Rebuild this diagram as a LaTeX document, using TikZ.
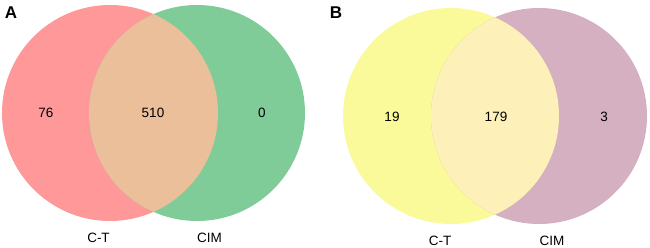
\documentclass[tikz,border=0pt]{standalone}
\usepackage{fontspec}
\setmainfont{Liberation Sans}
\usetikzlibrary{positioning}

\definecolor{ctred}{RGB}{255,153,153}
\definecolor{cimgreen}{RGB}{128,204,153}
\definecolor{lensA}{RGB}{235,191,153}
\definecolor{ctyellow}{RGB}{250,250,155}
\definecolor{cimmauve}{RGB}{212,176,192}
\definecolor{lensB}{RGB}{253,240,185}

\begin{document}
\begin{tikzpicture}[x=1pt, y=-1pt,
    setc/.style={circle, inner sep=0pt, minimum size=216pt},
    count/.style={font=\fontsize{13.5}{15}\selectfont},
    setlabel/.style={font=\fontsize{13.5}{15}\selectfont},
    panel/.style={font=\fontsize{17}{19}\selectfont\bfseries}]

    \useasboundingbox (0,0) rectangle (650,248);

    % Panel A
    \node[setc, fill=ctred] (ctA) at (110,113) {};
    \node[setc, fill=cimgreen] (cimA) at (197,113) {};
    \begin{scope}
        \clip (ctA.center) circle[radius=108pt];
        \fill[lensA] (cimA.center) circle[radius=108pt];
    \end{scope}
    \node[count] (onlyctA) at (46,113) {76};
    \node[count] (bothA) at (153,113) {510};
    \node[count] (onlycimA) at (262,113) {0};
    \node[setlabel] (labctA) at (98.5,238) {C-T};
    \node[setlabel] (labcimA) at (209.5,238) {CIM};
    \node[panel] (tagA) at (11,13) {A};

    % Panel B
    \node[setc, fill=ctyellow] (ctB) at (451,116) {};
    \node[setc, fill=cimmauve] (cimB) at (539,116) {};
    \begin{scope}
        \clip (ctB.center) circle[radius=108pt];
        \fill[lensB] (cimB.center) circle[radius=108pt];
    \end{scope}
    \node[count] (onlyctB) at (392,117) {19};
    \node[count] (bothB) at (496,117) {179};
    \node[count] (onlycimB) at (604,117) {3};
    \node[setlabel] (labctB) at (440,241) {C-T};
    \node[setlabel] (labcimB) at (552,241) {CIM};
    \node[panel] (tagB) at (336,13) {B};
\end{tikzpicture}
\end{document}
